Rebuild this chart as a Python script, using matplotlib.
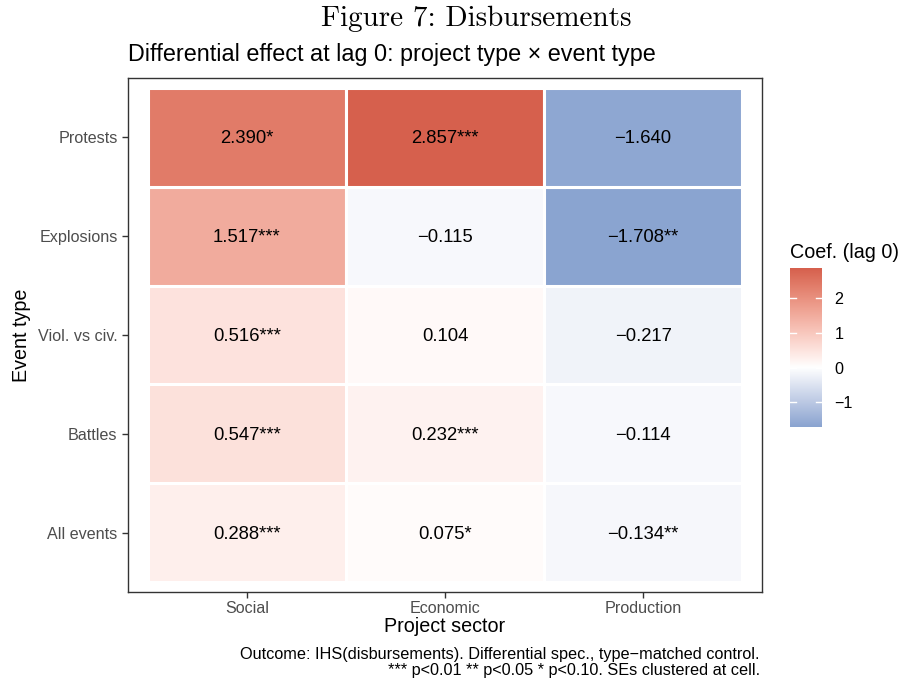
import numpy as np
import matplotlib
matplotlib.use("Agg")
import matplotlib.pyplot as plt
from matplotlib.colors import ListedColormap, Normalize, to_rgb

plt.rcParams["font.family"] = ["Liberation Sans", "DejaVu Sans"]

# ── data ──────────────────────────────────────────────────
sectors = ["Social", "Economic", "Production"]
events = ["All events", "Battles", "Viol. vs civ.", "Explosions", "Protests"]

coef = np.array([
    [0.288, 0.075, -0.134],    # All events
    [0.547, 0.232, -0.114],    # Battles
    [0.516, 0.104, -0.217],    # Viol. vs civ.
    [1.517, -0.115, -1.708],   # Explosions
    [2.390, 2.857, -1.640],    # Protests
])
stars = [
    ["***", "*", "**"],
    ["***", "***", ""],
    ["***", "", ""],
    ["***", "", "**"],
    ["*", "***", ""],
]

cbar_ticks = [-1, 0, 1, 2]


# ── colour scale: blue - white - red, interpolated in Lab ──
def srgb_to_lab(c):
    c = np.asarray(c, float)
    lin = np.where(c <= 0.04045, c / 12.92, ((c + 0.055) / 1.055) ** 2.4)
    M = np.array([[0.4124, 0.3576, 0.1805],
                  [0.2126, 0.7152, 0.0722],
                  [0.0193, 0.1192, 0.9505]])
    xyz = lin @ M.T / np.array([0.95047, 1.0, 1.08883])
    f = np.where(xyz > 0.008856, np.cbrt(xyz), 7.787 * xyz + 16 / 116)
    return np.stack([116 * f[..., 1] - 16,
                     500 * (f[..., 0] - f[..., 1]),
                     200 * (f[..., 1] - f[..., 2])], axis=-1)


def lab_to_srgb(lab):
    L, a, b = lab[..., 0], lab[..., 1], lab[..., 2]
    fy = (L + 16) / 116
    fx = fy + a / 500
    fz = fy - b / 200
    f = np.stack([fx, fy, fz], axis=-1)
    xyz = np.where(f ** 3 > 0.008856, f ** 3, (f - 16 / 116) / 7.787)
    xyz = xyz * np.array([0.95047, 1.0, 1.08883])
    Minv = np.array([[3.2406, -1.5372, -0.4986],
                     [-0.9689, 1.8758, 0.0415],
                     [0.0557, -0.2040, 1.0570]])
    lin = np.clip(xyz @ Minv.T, 0, 1)
    c = np.where(lin <= 0.0031308, 12.92 * lin,
                 1.055 * lin ** (1 / 2.4) - 0.055)
    return np.clip(c, 0, 1)


vmin, vmax = coef.min(), coef.max()
vals = np.linspace(vmin, vmax, 512)
lab_w = srgb_to_lab(to_rgb("#FFFFFF"))
lab_lo = srgb_to_lab(to_rgb("#8AA4D0"))
lab_hi = srgb_to_lab(to_rgb("#D6604D"))
t = np.where(vals < 0, vals / vmin, vals / vmax)[:, None]
end = np.where(vals[:, None] < 0, lab_lo, lab_hi)
cmap = ListedColormap(lab_to_srgb(lab_w + t * (end - lab_w)))
norm = Normalize(vmin=vmin, vmax=vmax)

fig = plt.figure(figsize=(9.02, 6.83), dpi=100)
ax = fig.add_axes([128/902, 1-592/683, 634/902, 514/683])

for i in range(len(events)):
    for j in range(len(sectors)):
        v = coef[i, j]
        ax.add_patch(plt.Rectangle((j - 0.5, i - 0.5), 1, 1,
                                   facecolor=cmap(norm(v)),
                                   edgecolor="white", linewidth=2.2))
        lab = f"{v:.3f}".replace("-", "\u2212") + stars[i][j]
        ax.text(j, i - 0.015, lab, ha="center", va="center", fontsize=13.3,
                color="black")

ax.set_xlim(-0.6, len(sectors) - 0.4)
ax.set_ylim(-0.6, len(events) - 0.4)
ax.set_xticks(range(len(sectors)))
ax.set_xticklabels(sectors)
ax.set_yticks(range(len(events)))
ax.set_yticklabels(events)
ax.tick_params(labelsize=11.6, labelcolor="#4D4D4D", color="#333333",
               length=4, width=1)
ax.tick_params(axis="x", pad=2.5)
for s in ax.spines.values():
    s.set_color("#333333")
    s.set_linewidth(1)
ax.set_xlabel("Project sector", fontsize=14.2, labelpad=1)
ax.set_ylabel("Event type", fontsize=14.2, labelpad=5)

# titles
fig.text(476/902, 1-19/683, "Figure 7: Disbursements", family="cmr10",
         ha="center", va="center", fontsize=21)
fig.text(128/902, 1-55/683,
         "Differential effect at lag 0: project type \u00d7 event type",
         ha="left", va="center", fontsize=16.8)

# caption
fig.text(760/902, 1-655/683,
         "Outcome: IHS(disbursements). Differential spec., type\u2212matched control.",
         ha="right", va="center", fontsize=11.7)
fig.text(760/902, 1-670/683,
         "*** p<0.01 ** p<0.05 * p<0.10. SEs clustered at cell.",
         ha="right", va="center", fontsize=11.7)

# colour bar
cax = fig.add_axes([790/902, 1-427/683, 32/902, 159/683])
grad = np.linspace(vmin, vmax, 300).reshape(-1, 1)
cax.imshow(grad, cmap=cmap, norm=norm, origin="lower", aspect="auto",
           extent=(0, 1, vmin, vmax))
cax.set_xlim(0, 1)
cax.set_ylim(vmin, vmax)
cax.set_xticks([])
cax.set_yticks(cbar_ticks)
cax.set_yticklabels([str(t).replace("-", "\u2212") for t in cbar_ticks])
cax.yaxis.tick_right()
cax.tick_params(axis="y", length=0, pad=9, labelsize=11.6, labelcolor="black")
for tk in cbar_ticks:
    cax.plot([0, 0.2], [tk, tk], color="white", lw=1)
    cax.plot([0.8, 1], [tk, tk], color="white", lw=1)
for s in cax.spines.values():
    s.set_visible(False)
fig.text(790/902, 1-252/683, "Coef. (lag 0)", ha="left", va="center",
         fontsize=14.2)

fig.savefig("out.png", dpi=100)
